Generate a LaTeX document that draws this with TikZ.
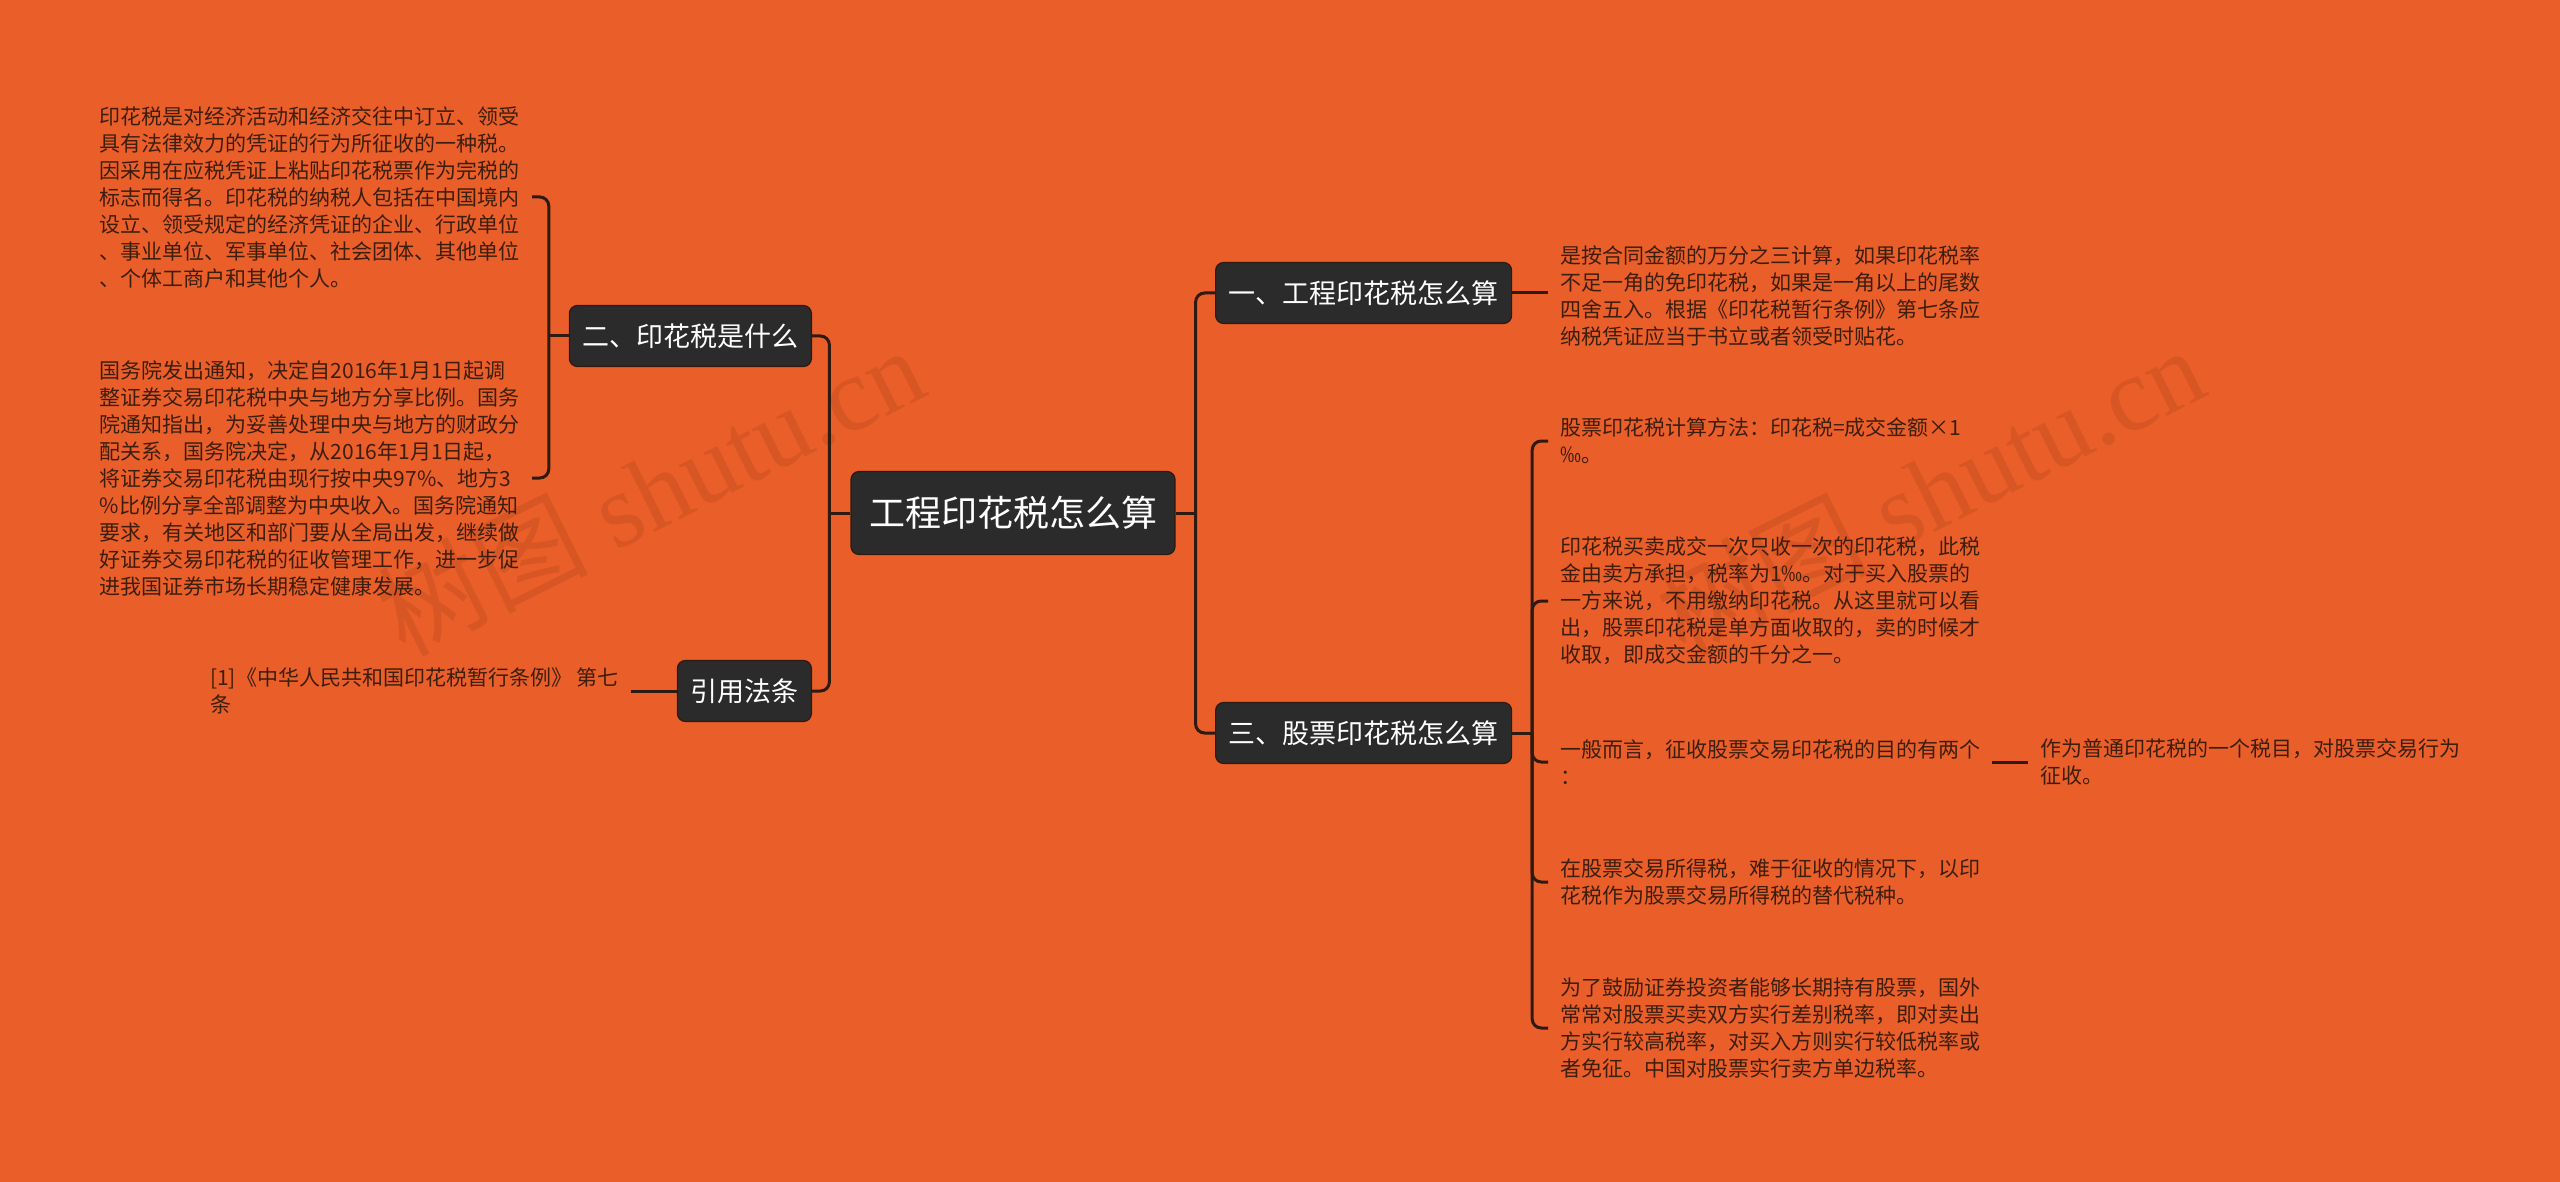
\documentclass[tikz,border=0pt]{standalone}
\usepackage{fontspec}
\setmainfont{Liberation Serif}
\newfontfamily\cjk{Noto Sans CJK SC}
\usepackage{xcolor}
\usepackage{tikz}

\definecolor{bgorange}{HTML}{E95E29}
\definecolor{nodegray}{HTML}{2B2B2B}
\definecolor{linebrown}{HTML}{2E1A10}
\definecolor{leafbrown}{HTML}{3D1E0E}
\definecolor{wmorange}{HTML}{C24E1E}

\begin{document}
\begin{tikzpicture}[x=1pt, y=-1pt,
  topic/.style={draw=linebrown, line width=1.2pt, fill=nodegray,
    rounded corners=8pt, text=white, inner xsep=13pt, minimum height=61pt,
    font=\cjk\fontsize{27}{32}\selectfont},
  root/.style={topic, inner xsep=18pt, minimum height=83pt,
    font=\cjk\fontsize{36}{43}\selectfont},
  leaf/.style={text=leafbrown, align=left, inner xsep=12pt, inner ysep=2pt,
    font=\cjk\fontsize{21}{27}\selectfont},
  link/.style={draw=linebrown, line width=3pt, rounded corners=9pt},
  wm/.style={text=wmorange, opacity=0.45, rotate=26.6,
    font=\fontsize{105}{110}\selectfont}]
% ================= background and watermarks =================
\fill[bgorange] (0,0) rectangle (2560,1182);
\useasboundingbox (0,0) rectangle (2560,1182);
\node[wm] (wmleft)  at (650,490)  {{\cjk 树图} shutu.cn};
\node[wm] (wmright) at (1930,490) {{\cjk 树图} shutu.cn};
% ================= central topic =================
\node[root] (root) at (1013,513) {工程印花税怎么算};
% ================= left side =================
\node[topic, anchor=east] (what) at (812,336) {二、印花税是什么};
\node[topic, anchor=east] (refs) at (812,691) {引用法条};
\node[leaf, anchor=east] (whatA) at (532,197) {%
  印花税是对经济活动和经济交往中订立、领受\\
  具有法律效力的凭证的行为所征收的一种税。\\
  因采用在应税凭证上粘贴印花税票作为完税的\\
  标志而得名。印花税的纳税人包括在中国境内\\
  设立、领受规定的经济凭证的企业、行政单位\\
  、事业单位、军事单位、社会团体、其他单位\\
  、个体工商户和其他个人。};
\node[leaf, anchor=east] (whatB) at (532,478) {%
  国务院发出通知，决定自2016年1月1日起调\\
  整证券交易印花税中央与地方分享比例。国务\\
  院通知指出，为妥善处理中央与地方的财政分\\
  配关系，国务院决定，从2016年1月1日起，\\
  将证券交易印花税由现行按中央97\%、地方3\\
  \%比例分享全部调整为中央收入。国务院通知\\
  要求，有关地区和部门要从全局出发，继续做\\
  好证券交易印花税的征收管理工作，进一步促\\
  进我国证券市场长期稳定健康发展。};
\node[leaf, anchor=west] (refleaf) at (198,691) {%
  [1]《中华人民共和国印花税暂行条例》 第七\\
  条};
% ================= right side =================
\node[topic, anchor=west] (proj) at (1215,293) {一、工程印花税怎么算};
\node[topic, anchor=west] (stock) at (1215,733) {三、股票印花税怎么算};
\node[leaf, anchor=west] (projleaf) at (1548,296) {%
  是按合同金额的万分之三计算，如果印花税率\\
  不足一角的免印花税，如果是一角以上的尾数\\
  四舍五入。根据《印花税暂行条例》第七条应\\
  纳税凭证应当于书立或者领受时贴花。};
\node[leaf, anchor=west] (s1) at (1548,441) {%
  股票印花税计算方法：印花税=成交金额×1\\
  ‰。};
\node[leaf, anchor=west] (s2) at (1548,601) {%
  印花税买卖成交一次只收一次的印花税，此税\\
  金由卖方承担，税率为1‰。对于买入股票的\\
  一方来说，不用缴纳印花税。从这里就可以看\\
  出，股票印花税是单方面收取的，卖的时候才\\
  收取，即成交金额的千分之一。};
\node[leaf, anchor=west] (s3) at (1548,762) {%
  一般而言，征收股票交易印花税的目的有两个\\
  ：};
\node[leaf, anchor=west] (s3c) at (2028,762) {%
  作为普通印花税的一个税目，对股票交易行为\\
  征收。};
\node[leaf, anchor=west] (s4) at (1548,882) {%
  在股票交易所得税，难于征收的情况下，以印\\
  花税作为股票交易所得税的替代税种。};
\node[leaf, anchor=west] (s5) at (1548,1028) {%
  为了鼓励证券投资者能够长期持有股票，国外\\
  常常对股票买卖双方实行差别税率，即对卖出\\
  方实行较高税率，对买入方则实行较低税率或\\
  者免征。中国对股票实行卖方单边税率。};
% ================= connectors =================
\draw[link] (root.west) -- ++(-21,0) coordinate (lj);
\draw[link] (lj) |- (what.east);
\draw[link] (lj) |- (refs.east);
\draw[link] (what.west) -- ++(-20,0) coordinate (wj);
\draw[link] (wj) |- (whatA.east);
\draw[link] (wj) |- (whatB.east);
\draw[link] (refs.west) -- (refleaf.east);
\draw[link] (root.east) -- ++(20,0) coordinate (rj);
\draw[link] (rj) |- (proj.west);
\draw[link] (rj) |- (stock.west);
\draw[link] (proj.east) -- (proj.east -| projleaf.west);
\draw[link] (stock.east) -- ++(20,0) coordinate (sj);
\foreach \n in {s1,s2,s3,s4,s5}
  \draw[link] (sj) |- (\n.west);
\draw[link] (s3.east) -- (s3c.west);
\end{tikzpicture}
\end{document}
